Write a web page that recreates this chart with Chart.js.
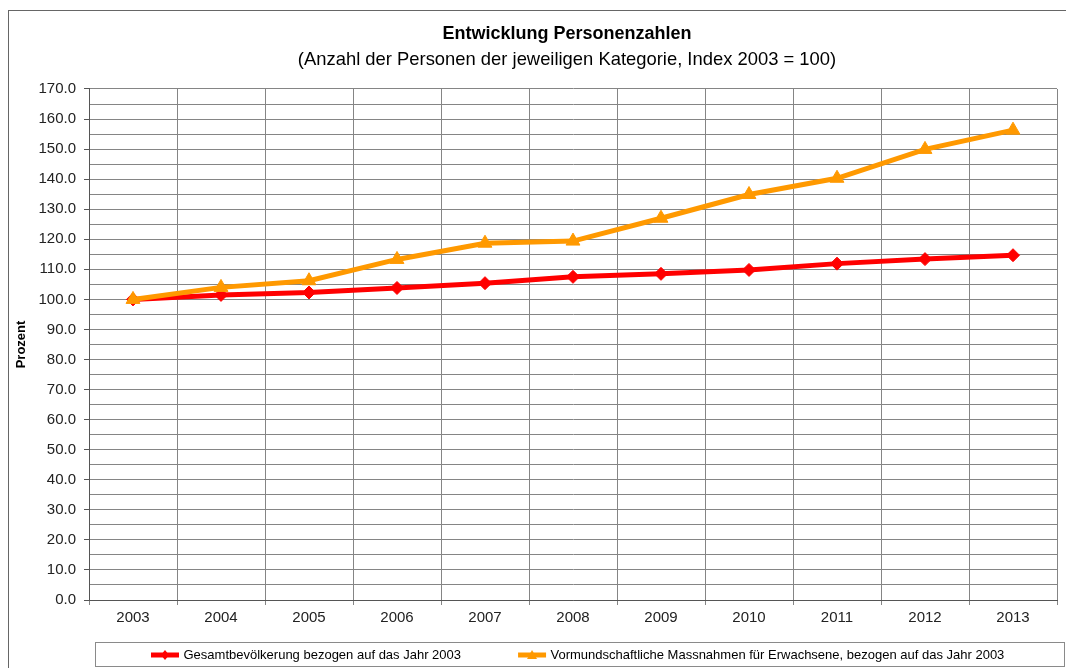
<!DOCTYPE html>
<html>
<head>
<meta charset="utf-8">
<script src="https://cdn.jsdelivr.net/npm/chart.js@4/dist/chart.umd.min.js"></script>
<style>
  html, body { margin: 0; padding: 0; background: #ffffff; }
  canvas { display: block; }
</style>
</head>
<body>
<canvas id="c" width="1066" height="668"></canvas>
<script>
// ---- data ----
const years = ['2003', '2004', '2005', '2006', '2007', '2008', '2009', '2010', '2011', '2012', '2013'];
const gesamtbevoelkerung = [100.0, 101.5, 102.3, 103.8, 105.4, 107.5, 108.5, 109.8, 111.9, 113.4, 114.7];
const vormundschaft = [100.0, 104.0, 106.2, 113.3, 118.7, 119.4, 127.0, 134.9, 140.3, 149.9, 156.3];
const seriesNames = [
  'Gesamtbevölkerung bezogen auf das Jahr 2003',
  'Vormundschaftliche Massnahmen für Erwachsene, bezogen auf das Jahr 2003'
];
const titleText = 'Entwicklung Personenzahlen';
const subtitleText = '(Anzahl der Personen der jeweiligen Kategorie, Index 2003 = 100)';
const yAxisTitle = 'Prozent';
const yMin = 0, yMax = 170, yStep = 5, yLabelStep = 10;

const RED = '#ff0000';
const ORANGE = '#ff9900';
const GRID = '#858585';
const AXIS = '#555555';
const FONT = "'Liberation Sans', Arial, Helvetica, sans-serif";

Chart.defaults.font.family = FONT;

// legend marker images (line + marker)
function legendMarker(color, shape) {
  const cv = document.createElement('canvas');
  cv.width = 30; cv.height = 14;
  const g = cv.getContext('2d');
  g.strokeStyle = color; g.fillStyle = color; g.lineWidth = 5;
  g.beginPath(); g.moveTo(1, 7); g.lineTo(29, 7); g.stroke();
  g.beginPath();
  if (shape === 'diamond') {
    g.moveTo(15, 2); g.lineTo(19, 7); g.lineTo(15, 12); g.lineTo(11, 7);
  } else {
    g.moveTo(15, 2); g.lineTo(20, 11); g.lineTo(10, 11);
  }
  g.closePath(); g.fill();
  return cv;
}
const legendImgs = [legendMarker(RED, 'diamond'), legendMarker(ORANGE, 'triangle')];

const LEGEND_PAD = 59;

const layoutPlugin = {
  id: 'layoutTweaks',
  afterLayout(chart) {
    // center titles like the reference
    chart.boxes.forEach(b => {
      if (b.options && b.options.text !== undefined && b !== chart.legend) {
        const c = (b.left + b.right) / 2;
        const d = 567 - c;
        b.left += d; b.right += d;
      }
    });
    const lg = chart.legend;
    if (lg) {
      const hb = lg.legendHitBoxes || [];
      const total = hb.reduce((s, h) => s + h.width, 0) + LEGEND_PAD * Math.max(hb.length - 1, 0);
      const curStart = (lg.left + lg.right - total) / 2;
      const shift = 153 - curStart;
      lg.left += shift; lg.right += shift;
      const itemTop = 648.5;
      lg.top = itemTop - LEGEND_PAD;
      lg.bottom = 668;
      lg.height = lg.bottom - lg.top;
      lg.width = lg.right - lg.left;
    }
  },
  beforeDraw(chart) {
    const ctx = chart.ctx;
    ctx.save();
    ctx.strokeStyle = '#666666';
    ctx.lineWidth = 1;
    ctx.strokeRect(8.5, 10.5, 2000, 2000);
    ctx.restore();
  },
  afterDraw(chart) {
    const ctx = chart.ctx;
    const lg = chart.legend;
    const hb = lg.legendHitBoxes;
    if (!hb || !hb.length) return;
    const top = Math.round(hb[0].top) - 6.5;
    ctx.save();
    ctx.strokeStyle = '#8a8a8a';
    ctx.lineWidth = 1;
    ctx.strokeRect(Math.round(chart.chartArea.left) + 6.5, top, chart.width - Math.round(chart.chartArea.left) - 8, 24);
    ctx.restore();
  }
};

new Chart(document.getElementById('c'), {
  type: 'line',
  data: {
    labels: years,
    datasets: [
      {
        label: seriesNames[0],
        data: gesamtbevoelkerung,
        borderColor: RED,
        backgroundColor: RED,
        borderWidth: 5,
        pointStyle: 'rectRot',
        pointRadius: 6.5,
        pointBorderWidth: 1,
        pointBackgroundColor: RED,
        pointBorderColor: RED,
        tension: 0,
        order: 1
      },
      {
        label: seriesNames[1],
        data: vormundschaft,
        borderColor: ORANGE,
        backgroundColor: ORANGE,
        borderWidth: 5,
        pointStyle: 'triangle',
        pointRadius: 8,
        pointBorderWidth: 1,
        pointBackgroundColor: ORANGE,
        pointBorderColor: ORANGE,
        tension: 0,
        order: 0
      }
    ]
  },
  options: {
    responsive: false,
    animation: false,
    events: [],
    layout: { padding: { left: 0, right: 4, top: 0, bottom: 0 } },
    plugins: {
      tooltip: { enabled: false },
      title: {
        display: true,
        text: titleText,
        color: '#000000',
        font: { family: FONT, size: 18, weight: 'bold' },
        padding: { top: 23.5, bottom: 3.9 }
      },
      subtitle: {
        display: true,
        text: subtitleText,
        color: '#000000',
        font: { family: FONT, size: 18.4, weight: 'normal' },
        padding: { top: 0, bottom: 17.9 }
      },
      legend: {
        display: true,
        position: 'bottom',
        maxHeight: 20,
        labels: {
          usePointStyle: true,
          pointStyleWidth: 24,
          padding: LEGEND_PAD,
          color: '#000000',
          font: { family: FONT, size: 13 },
          generateLabels(chart) {
            const items = Chart.defaults.plugins.legend.labels.generateLabels(chart);
            items.sort((a, b) => a.datasetIndex - b.datasetIndex);
            items.forEach((it) => { it.pointStyle = legendImgs[it.datasetIndex]; });
            return items;
          }
        }
      }
    },
    scales: {
      x: {
        type: 'category',
        offset: true,
        afterFit(s) { s.height = 48; },
        grid: {
          offset: true,
          color: GRID,
          lineWidth: 1,
          drawTicks: true,
          tickLength: 5,
          tickColor: GRID
        },
        border: { display: true, color: AXIS, width: 1 },
        ticks: {
          color: '#222222',
          font: { family: FONT, size: 15 },
          padding: 4,
          maxRotation: 0,
          autoSkip: false
        }
      },
      y: {
        type: 'linear',
        min: yMin,
        max: yMax,
        afterFit(s) { s.width = 89; },
        grid: {
          color: GRID,
          lineWidth: 1,
          drawTicks: true,
          tickLength: 5,
          tickColor: (ctx) => (ctx.tick && ctx.tick.value % yLabelStep === 0) ? AXIS : 'rgba(0,0,0,0)'
        },
        border: { display: true, color: AXIS, width: 1 },
        title: {
          display: true,
          text: yAxisTitle,
          color: '#000000',
          font: { family: FONT, size: 13, weight: 'bold' },
          padding: { top: 14, bottom: 0 }
        },
        ticks: {
          stepSize: yStep,
          autoSkip: false,
          color: '#222222',
          font: { family: FONT, size: 15 },
          padding: 8,
          callback: (v) => (v % yLabelStep === 0 ? Number(v).toFixed(1) : '')
        }
      }
    }
  },
  plugins: [layoutPlugin]
});
</script>
</body>
</html>
